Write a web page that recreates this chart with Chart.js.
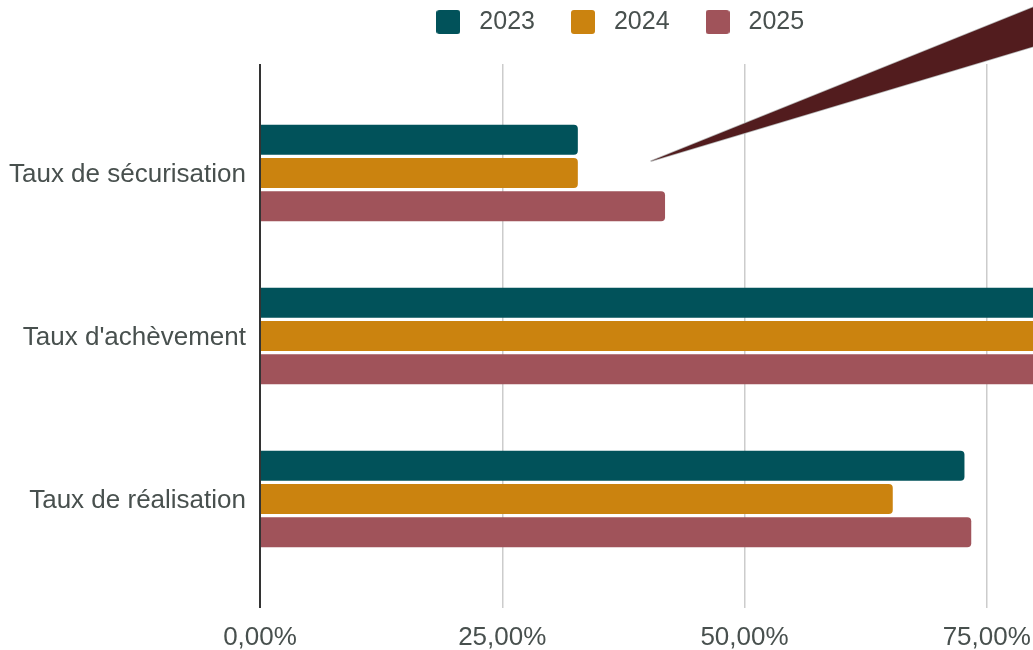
<!DOCTYPE html>
<html><head><meta charset="utf-8">
<script src="https://cdn.jsdelivr.net/npm/chart.js@4.4.1/dist/chart.umd.min.js"></script>
<style>
html,body{margin:0;padding:0;background:#fff;overflow:hidden;width:1033px;height:650px}
#wrap{width:1240px;height:650px}
canvas{display:block}
</style>
</head><body>
<div id="wrap"><canvas id="c" width="1240" height="650"></canvas></div>
<script>
// ---- data ----
const categories = ["Taux de sécurisation", "Taux d'achèvement", "Taux de réalisation"];
const seriesNames = ["2023", "2024", "2025"];
const values2023 = [32.8, 100, 72.7];
const values2024 = [32.8, 100, 65.3];
const values2025 = [41.8, 100, 73.4];
const xTickValues = [0, 25, 50, 75, 100];
// decorative wedge (in data units: x = percent, y = category index)
const wedgeX = [40.31, 100, 100];
const wedgeY = [-0.072, -1.501, -1.136];

const seriesColors = ['#01525a', '#cb830f', '#a0535a'];
const textColor = '#48504e';
const FONT = "'Liberation Sans', Arial, sans-serif";

Chart.defaults.font.family = FONT;
Chart.defaults.font.size = 25;
Chart.defaults.color = textColor;

function swatch(color) {
  const c = document.createElement('canvas');
  c.width = 24; c.height = 24;
  const g = c.getContext('2d');
  g.fillStyle = color;
  g.beginPath();
  g.roundRect(0, 0, 24, 24, 3);
  g.fill();
  return c;
}
const swatches = seriesColors.map(swatch);

const allValues = [values2023, values2024, values2025];
const datasets = allValues.map((vals, k) => ({
  label: seriesNames[k],
  data: vals.map((v, i) => ({ x: v, y: i })),
  backgroundColor: seriesColors[k],
  borderWidth: 0,
  borderRadius: 4,
  borderSkipped: 'start',
  categoryPercentage: 0.613,
  barPercentage: 0.9
}));

const legendSpacer = {
  id: 'legendSpacer',
  afterInit(chart) {
    const l = chart.legend;
    const orig = l.fit;
    l.fit = function () { orig.call(this); this.height += 19.5; };
  }
};

const wedgePlugin = {
  id: 'wedge',
  afterDatasetsDraw(chart) {
    const { ctx, scales: { x, y } } = chart;
    ctx.save();
    ctx.beginPath();
    wedgeX.forEach((vx, i) => {
      const px = x.getPixelForValue(vx), py = y.getPixelForValue(wedgeY[i]);
      if (i === 0) ctx.moveTo(px, py); else ctx.lineTo(px, py);
    });
    ctx.closePath();
    ctx.fillStyle = '#521c1e';
    ctx.strokeStyle = '#b5b5b5';
    ctx.lineWidth = 1.5;
    ctx.stroke();
    ctx.fill();
    ctx.restore();
  }
};

new Chart(document.getElementById('c'), {
  type: 'bar',
  data: { datasets },
  plugins: [legendSpacer, wedgePlugin],
  options: {
    indexAxis: 'y',
    responsive: false,
    animation: false,
    devicePixelRatio: 1,
    layout: { padding: { top: -20, right: 11, left: 5, bottom: 0 } },
    plugins: {
      tooltip: { enabled: false },
      legend: {
        position: 'top',
        align: 'center',
        labels: {
          usePointStyle: true,
          pointStyleWidth: 37,
          boxHeight: 24,
          padding: 29.5,
          color: textColor,
          font: { size: 25, family: FONT },
          generateLabels(chart) {
            const items = Chart.defaults.plugins.legend.labels.generateLabels(chart);
            items.forEach((it, i) => { it.pointStyle = swatches[i]; });
            return items;
          }
        }
      }
    },
    scales: {
      x: {
        type: 'linear',
        position: 'bottom',
        min: 0,
        max: 100,
        offset: false,
        afterBuildTicks(s) { s.ticks = xTickValues.map(v => ({ value: v })); },
        afterFit(s) { s.height = 42; s.paddingLeft = 0; s.paddingRight = 0; },
        border: { display: false },
        grid: {
          drawTicks: false,
          color: c => (c.tick && c.tick.value === 0) ? '#333333' : '#cccccc',
          lineWidth: c => (c.tick && c.tick.value === 0) ? 2 : 1.5
        },
        ticks: {
          padding: 14,
          color: textColor,
          font: { size: 26, family: FONT },
          callback: v => v.toFixed(2).replace('.', ',') + '%'
        }
      },
      y: {
        type: 'linear',
        reverse: true,
        offset: false,
        min: -0.669,
        max: 2.669,
        afterBuildTicks(s) { s.ticks = categories.map((_, i) => ({ value: i })); },
        afterFit(s) { s.width = 255; s.paddingTop = 0; s.paddingBottom = 0; },
        border: { display: false },
        grid: { display: false, drawTicks: false },
        ticks: {
          padding: 14,
          labelOffset: 1.5,
          autoSkip: false,
          color: textColor,
          font: { size: 26, family: FONT },
          callback: v => categories[v]
        }
      }
    }
  }
});
</script>
</body></html>
